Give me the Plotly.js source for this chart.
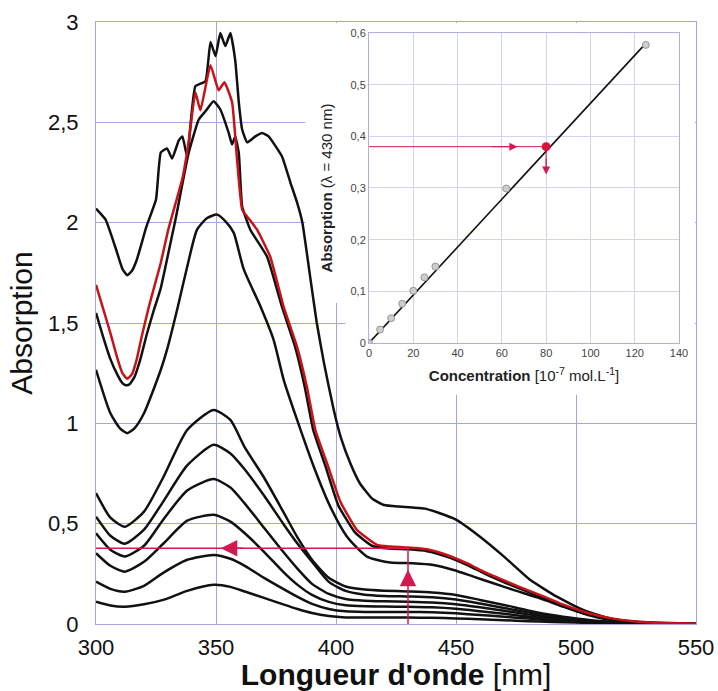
<!DOCTYPE html>
<html>
<head>
<meta charset="utf-8">
<script src="https://cdn.plot.ly/plotly-3.0.1.min.js"></script>
<style>
html,body{margin:0;padding:0;background:#fff;}
#chart{width:718px;height:691px;}
</style>
</head>
<body>
<div id="chart"></div>
<script>
// ---------- Main spectra (wavelength nm, absorbance) ----------
const wlA  = [300,304,308,311,313,315,317,321,325,327,329.6,331.7,334.5,336,338,341.4,345.6,347.7,349.8,351.8,353.9,356,358,359.5,360.9,363,366.4,369.2,371.9,377.5,381,383.8,386,389,392,395,399,402,406,410,415,420,426,432,437,443,450,460,470,481,492,503,514,525,537,550];
const absA = [2.07,2.015,1.88,1.77,1.738,1.76,1.815,1.98,2.115,2.35,2.37,2.32,2.41,2.43,2.33,2.68,2.705,2.9,2.83,2.945,2.88,2.945,2.81,2.6,2.464,2.40,2.43,2.447,2.43,2.33,2.2,2.1,2.0,1.75,1.5,1.3,1.07,0.93,0.80,0.70,0.625,0.593,0.585,0.58,0.575,0.553,0.52,0.435,0.336,0.219,0.136,0.07,0.028,0.011,0.005,0.003];

const wlB  = [300,303,306,309,311,312.5,314,316,318.5,321.3,324,326.9,330,333.1,338.6,342.8,345.6,349,351.8,355.3,356.7,358,359.5,360.9,364.3,371.3,377.5,383,387,390.5,395.5,401,408,415,422,430,438,446,454.5,463,471,479.5,490,500,510,520,530,550];
const absB = [1.55,1.43,1.32,1.24,1.20,1.19,1.195,1.23,1.32,1.45,1.56,1.67,1.84,2.015,2.347,2.514,2.555,2.605,2.564,2.447,2.39,2.43,2.347,2.08,1.965,1.83,1.58,1.38,1.18,0.967,0.79,0.59,0.455,0.39,0.376,0.372,0.363,0.336,0.295,0.245,0.203,0.163,0.11,0.065,0.035,0.015,0.006,0.003];

const wlRed  = [300,303,306,309,311,313,315,317,319,322,324.5,327,330,333,336,338.6,341.4,343.5,347.7,351.1,353.5,356.7,358.8,360.9,363,367.1,372.6,378.2,383.8,387.9,391.4,396.3,401.8,408.7,417.1,422.6,429.6,437.9,446.2,454.5,462.9,471.2,479.5,487,495,505,515,525,535,550];
const absRed = [1.69,1.57,1.45,1.32,1.25,1.222,1.245,1.32,1.43,1.58,1.69,1.80,1.96,2.09,2.22,2.40,2.65,2.56,2.785,2.66,2.70,2.60,2.31,2.065,2.03,1.965,1.83,1.58,1.38,1.18,0.967,0.80,0.61,0.469,0.394,0.386,0.381,0.372,0.344,0.303,0.253,0.211,0.17,0.135,0.095,0.055,0.028,0.012,0.005,0.003];

const wlC  = [300,306,310,313,316,320,327,329.6,333.8,338,342.1,346.3,350.5,354.6,357.4,361.5,368.5,374,378.2,383.8,390.7,397.6,404.6,412.9,422.6,432,440.6,449,457.3,465.6,473.9,485,495,505,515,525,550];
const absC = [1.267,1.05,0.975,0.951,0.975,1.05,1.267,1.367,1.566,1.78,1.965,2.023,2.04,1.998,1.949,1.77,1.583,1.416,1.217,1.017,0.785,0.585,0.435,0.336,0.306,0.303,0.294,0.269,0.236,0.203,0.17,0.128,0.085,0.045,0.018,0.006,0.003];

const wlLow = [300,306,312,320,328,338,349,356,362,370,378,384,390,397,404,412,420,430,440,450,460,470,480,490,500,510,520,530,550];
const absD = [0.652,0.53,0.485,0.56,0.73,0.967,1.067,1.017,0.88,0.73,0.56,0.43,0.32,0.23,0.187,0.172,0.166,0.162,0.157,0.145,0.12,0.095,0.068,0.045,0.028,0.015,0.008,0.004,0.002];
const absE = [0.535,0.44,0.40,0.47,0.61,0.79,0.893,0.85,0.77,0.64,0.50,0.40,0.31,0.21,0.165,0.146,0.14,0.137,0.133,0.122,0.102,0.08,0.058,0.038,0.024,0.013,0.007,0.004,0.002];
const absF = [0.452,0.37,0.336,0.39,0.52,0.665,0.722,0.68,0.60,0.48,0.36,0.275,0.20,0.15,0.125,0.116,0.113,0.111,0.107,0.098,0.083,0.066,0.048,0.032,0.02,0.011,0.006,0.003,0.002];
const absG = [0.353,0.29,0.261,0.31,0.40,0.515,0.544,0.51,0.452,0.36,0.26,0.195,0.145,0.11,0.093,0.088,0.087,0.086,0.083,0.076,0.064,0.051,0.037,0.025,0.016,0.009,0.005,0.003,0.002];
const absH = [0.211,0.175,0.161,0.19,0.255,0.32,0.344,0.325,0.29,0.23,0.175,0.135,0.10,0.075,0.063,0.06,0.06,0.06,0.058,0.053,0.045,0.036,0.027,0.018,0.012,0.007,0.004,0.002,0.001];
const absI = [0.111,0.092,0.086,0.098,0.12,0.165,0.195,0.185,0.162,0.13,0.098,0.075,0.055,0.04,0.033,0.032,0.032,0.032,0.031,0.028,0.024,0.019,0.014,0.01,0.007,0.004,0.003,0.002,0.001];

// ---------- Inset: calibration ----------
const concPts = [0,5,10,15,20,25,30,62,125];
const absPts  = [0,0.026,0.048,0.076,0.101,0.127,0.148,0.299,0.577];
const fitConc = [0,125];
const fitAbs  = [0,0.58];
const sampleConc = [80];
const sampleAbs  = [0.38];
const readWavelength = 430;
const readAbsMain = 0.377;

// ---------- Ticks ----------
const mainXTicks = [300,350,400,450,500,550];
const mainYTicks = [0,0.5,1,1.5,2,2.5,3];
const insetXTicks = [0,20,40,60,80,100,120,140];
const insetYTicks = [0,0.1,0.2,0.3,0.4,0.5,0.6];

const BLACK = '#111';
const RED = 'rgb(200,18,24)';
const ARROW = 'rgb(210,25,80)';
const GRID = 'rgb(165,165,228)';
const GRID2 = 'rgb(210,210,242)';
const FONT = '"Liberation Sans", Arial, sans-serif';

function spec(x, y, color, smoothing) {
  return {x: x, y: y, type: 'scatter', mode: 'lines', xaxis: 'x', yaxis: 'y',
    line: {color: color, width: 2.5, shape: 'spline', smoothing: smoothing},
    hoverinfo: 'skip', showlegend: false};
}

const traces = [
  spec(wlLow, absI, BLACK, 0.6),
  spec(wlLow, absH, BLACK, 0.6),
  spec(wlLow, absG, BLACK, 0.6),
  spec(wlLow, absF, BLACK, 0.6),
  spec(wlLow, absE, BLACK, 0.6),
  spec(wlLow, absD, BLACK, 0.6),
  spec(wlC, absC, BLACK, 0.6),
  spec(wlA, absA, BLACK, 0.4),
  spec(wlB, absB, BLACK, 0.4),
  spec(wlRed, absRed, RED, 0.4),
  // inset
  {x: fitConc, y: fitAbs, type: 'scatter', mode: 'lines', xaxis: 'x2', yaxis: 'y2',
    line: {color: '#111', width: 1.6}, hoverinfo: 'skip', showlegend: false},
  {x: concPts, y: absPts, type: 'scatter', mode: 'markers', xaxis: 'x2', yaxis: 'y2',
    marker: {size: 7, color: 'rgb(205,205,205)', line: {color: 'rgb(150,150,150)', width: 1}},
    hoverinfo: 'skip', showlegend: false},
  {x: sampleConc, y: sampleAbs, type: 'scatter', mode: 'markers', xaxis: 'x2', yaxis: 'y2',
    marker: {size: 9, color: 'rgb(215,20,60)', symbol: 'circle', line: {width: 0}},
    hoverinfo: 'skip', showlegend: false}
];

const layout = {
  width: 718, height: 691,
  margin: {l: 96, r: 22, t: 22, b: 67, pad: 0},
  paper_bgcolor: '#fff', plot_bgcolor: '#fff',
  separators: ', ',
  font: {family: FONT, color: '#111'},
  showlegend: false,
  xaxis: {
    domain: [0, 1], range: [300, 550], tickvals: mainXTicks,
    showgrid: true, gridcolor: GRID, gridwidth: 1,
    showline: true, mirror: true, linecolor: GRID, linewidth: 1,
    zeroline: false, ticks: '', tickfont: {size: 22, color: '#111'},
    ticklabelstandoff: 4,
    title: {text: "<b>Longueur d'onde</b> [nm]", font: {size: 30, color: '#111'}, standoff: 10}
  },
  yaxis: {
    domain: [0, 1], range: [0, 3], tickvals: mainYTicks,
    showgrid: true, gridcolor: GRID, gridwidth: 1,
    showline: true, mirror: true, linecolor: GRID, linewidth: 1,
    zeroline: false, ticks: '', tickfont: {size: 22, color: '#111'},
    ticklabelstandoff: 12,
    title: {text: 'Absorption', font: {size: 30, color: '#111'}, standoff: 6}
  },
  xaxis2: {
    domain: [0.455, 0.9717], anchor: 'y2', range: [0, 140], tickvals: insetXTicks,
    showgrid: true, gridcolor: GRID2, gridwidth: 1,
    showline: true, mirror: true, linecolor: 'rgb(175,175,228)', linewidth: 1,
    zeroline: false, ticks: '', tickfont: {size: 11, color: '#444'},
    title: {text: '<b>Concentration</b> [10<sup>-7</sup> mol.L<sup>-1</sup>]', font: {size: 15, color: '#222'}, standoff: 12}
  },
  yaxis2: {
    domain: [0.4668, 0.9817], anchor: 'x2', range: [0, 0.6], tickvals: insetYTicks,
    showgrid: true, gridcolor: GRID2, gridwidth: 1,
    showline: true, mirror: true, linecolor: 'rgb(175,175,228)', linewidth: 1,
    zeroline: false, ticks: '', tickfont: {size: 11, color: '#444'},
    title: {text: '<b>Absorption</b> (λ = 430 nm)', font: {size: 15, color: '#222'}, standoff: 14}
  },
  shapes: [
    // white background of the inset (hides main grid)
    {type: 'rect', xref: 'x', yref: 'y', x0: 387.2, x1: 549.6, y0: 1.6, y1: 2.995,
      fillcolor: '#fff', line: {width: 0}, layer: 'between'},
    {type: 'rect', xref: 'x', yref: 'y', x0: 403.9, x1: 549.6, y0: 1.142, y1: 2.995,
      fillcolor: '#fff', line: {width: 0}, layer: 'between'},
    // reading lines, main
    {type: 'line', xref: 'x', yref: 'y', x0: 300, x1: readWavelength, y0: readAbsMain, y1: readAbsMain,
      line: {color: ARROW, width: 1.5}},
    {type: 'line', xref: 'x', yref: 'y', x0: readWavelength, x1: readWavelength, y0: 0, y1: readAbsMain,
      line: {color: ARROW, width: 1.5}},
    // reading lines, inset
    {type: 'line', xref: 'x2', yref: 'y2', x0: 0, x1: sampleConc[0], y0: sampleAbs[0], y1: sampleAbs[0],
      line: {color: ARROW, width: 1}},
    {type: 'line', xref: 'x2', yref: 'y2', x0: sampleConc[0], x1: sampleConc[0], y0: 0.33, y1: sampleAbs[0],
      line: {color: ARROW, width: 1}}
  ],
  annotations: [
    {x: 352, y: readAbsMain, ax: 362, ay: readAbsMain, xref: 'x', yref: 'y', axref: 'x', ayref: 'y',
      text: '', showarrow: true, arrowhead: 2, arrowsize: 2.2, arrowwidth: 1.5, arrowcolor: ARROW},
    {x: readWavelength, y: 0.27, ax: readWavelength, ay: 0.2, xref: 'x', yref: 'y', axref: 'x', ayref: 'y',
      text: '', showarrow: true, arrowhead: 2, arrowsize: 2.2, arrowwidth: 1.5, arrowcolor: ARROW},
    {x: 67, y: sampleAbs[0], ax: 55, ay: sampleAbs[0], xref: 'x2', yref: 'y2', axref: 'x2', ayref: 'y2',
      text: '', showarrow: true, arrowhead: 2, arrowsize: 1.6, arrowwidth: 1, arrowcolor: ARROW},
    {x: sampleConc[0], y: 0.326, ax: sampleConc[0], ay: 0.36, xref: 'x2', yref: 'y2', axref: 'x2', ayref: 'y2',
      text: '', showarrow: true, arrowhead: 2, arrowsize: 1.6, arrowwidth: 1, arrowcolor: ARROW}
  ]
};

Plotly.newPlot('chart', traces, layout, {displayModeBar: false, staticPlot: true});
</script>
</body>
</html>
